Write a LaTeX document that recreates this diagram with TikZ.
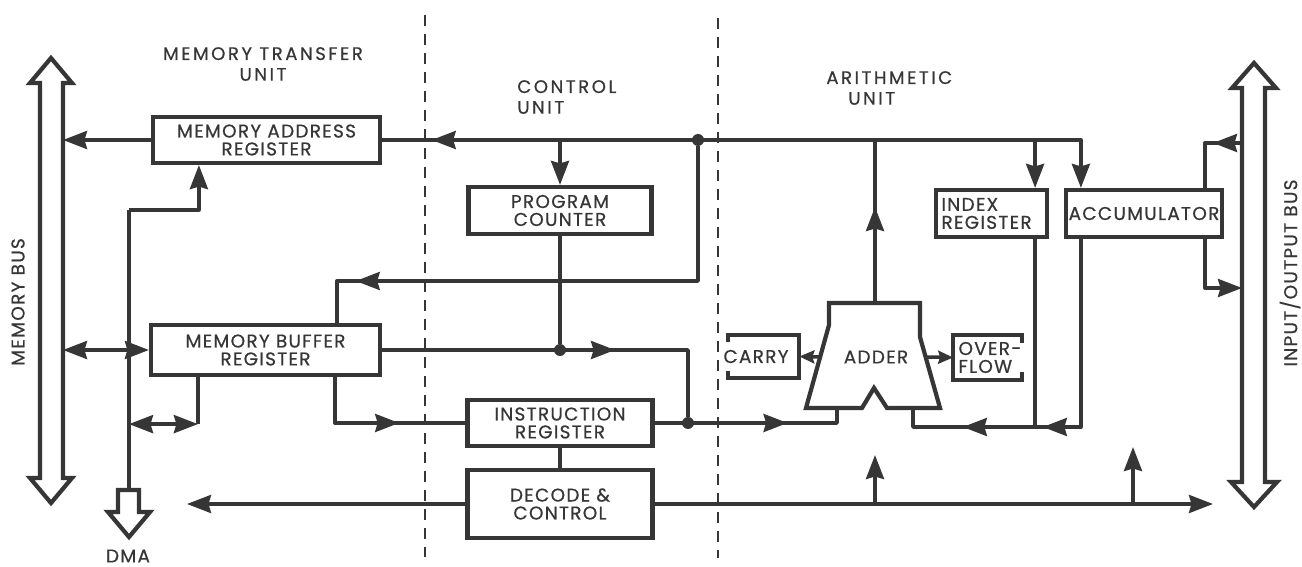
\documentclass[tikz,border=0pt]{standalone}
\usepackage{fontspec}
\setmainfont{Poppins}[LetterSpace=7, FakeBold=0.6]
\newfontfamily\widefont{Poppins}[LetterSpace=14, FakeBold=0.6]
\usetikzlibrary{arrows.meta,positioning,calc,decorations.markings}
\definecolor{ink}{HTML}{363636}
\newcommand{\regfont}{\fontsize{10.5}{10.2}\selectfont}
\newcommand{\labfont}{\widefont\fontsize{10.3}{11.8}\selectfont}
\tikzset{
  reg/.style={draw=ink, line width=2.4pt, align=center, font=\regfont, inner sep=1pt},
  wire/.style={line width=2pt, draw=ink, line join=round},
  sig/.style={wire, -{Stealth[length=4.8mm,width=3.6mm,inset=0.5mm]}},
  dbl/.style={wire, {Stealth[length=4.8mm,width=3.6mm,inset=0.5mm]}-{Stealth[length=4.8mm,width=3.6mm,inset=0.5mm]}},
  small/.style={wire, -{Stealth[length=3mm,width=2.6mm,inset=0.4mm]}},
  midtip/.style={postaction={decorate, decoration={markings,
      mark=at position #1 with {\arrow{Stealth[length=4.8mm,width=3.6mm,inset=0.5mm]}}}}},
  bus/.style={draw=ink, line width=2.4pt},
  dot/.style={circle, fill=ink, inner sep=0pt, minimum size=2.4mm},
  unitlab/.style={font=\labfont, inner sep=0pt},
  divider/.style={draw=ink, line width=1.1pt, dash pattern=on 0.22cm off 0.16cm},
}

\begin{document}
\begin{tikzpicture}[x=0.02cm, y=-0.02cm, color=ink]
  \useasboundingbox (0,0) rectangle (1302,567);
  % unit borders
  \draw[divider] (425,15) -- (425,557);
  \draw[divider] (718,18) -- (718,558);
  \node[unitlab, align=center] (mtu) at (263,64) {MEMORY TRANSFER\\UNIT};
  \node[unitlab, align=left, anchor=west] (cu) at (517,97) {CONTROL\\UNIT};
  \node[unitlab, align=left, anchor=west] (au) at (826,88) {ARITHMETIC\\\hspace*{0.44cm}UNIT};
  % buses
  \draw[bus] (51,58) -- (72,83) -- (63,83) -- (63,478) -- (72,478) -- (51,503) -- (30,478) -- (40,478)
    -- (40,83) -- (30,83) -- cycle;
  \draw[bus] (1254,63) -- (1276,88) -- (1265,88) -- (1265,482) -- (1277,482) -- (1254,507) -- (1231,482)
    -- (1242,482) -- (1242,88) -- (1232,88) -- cycle;
  \draw[bus] (118,490) -- (139,490) -- (139,512) -- (150,512) -- (129,537) -- (108,512) -- (118,512) -- cycle;
  \coordinate (mbus) at (63,300);
  \coordinate (ioIn) at (1242,143);
  \coordinate (ioOut) at (1242,288);
  \coordinate (dma) at (129,490);
  \coordinate (dmaTop) at (129,210);
  \node[font=\regfont, rotate=90] (mbl) at (18,302) {MEMORY BUS};
  \node[font=\regfont, rotate=90] (iol) at (1290,273) {INPUT/OUTPUT BUS};
  \node[font=\regfont] (dmal) at (128,556) {DMA};
  % registers
  \node[reg, minimum width=4.54cm, minimum height=0.92cm] (mar) at (266.5,140) {MEMORY ADDRESS\\REGISTER};
  \node[reg, minimum width=4.58cm, minimum height=1.0cm] (mbr) at (265.5,350) {MEMORY BUFFER\\REGISTER};
  \node[reg, minimum width=3.66cm, minimum height=0.94cm] (pc) at (560,210.5) {PROGRAM\\COUNTER};
  \node[reg, minimum width=3.7cm, minimum height=0.92cm] (ir) at (560,423) {INSTRUCTION\\REGISTER};
  \node[reg, minimum width=3.7cm, minimum height=1.36cm] (dec) at (560,504) {DECODE \&\\CONTROL};
  \node[reg, minimum width=2.22cm, minimum height=0.94cm, align=left, text width=2.0cm] (idx) at (991.5,213.5) {INDEX\\REGISTER};
  \node[reg, minimum width=3.12cm, minimum height=0.94cm] (acc) at (1144,213.5) {ACCUMULATOR};
  % adder and flags
  \draw[reg] (829,303) -- (920,303) -- (920,337) -- (940,408) -- (887,408) -- (874,388) -- (862,408)
    -- (806,408) -- (829,325) -- cycle;
  \node[font=\regfont] (adder) at (876,357) {ADDER};
  \coordinate (adderOut) at (875,303);
  \coordinate (adderIn1) at (837,408);
  \coordinate (adderIn2) at (913,408);
  \coordinate (adderC) at (819,357);
  \coordinate (adderV) at (925,357);
  \node[font=\regfont, inner sep=0pt, minimum width=1.42cm, minimum height=0.86cm] (carry) at (763.5,356.5) {\hspace*{-0.3cm}CARRY};
  \node[font=\regfont, align=left, inner sep=0pt, minimum width=1.34cm, minimum height=0.9cm] (ovf) at (987.5,357.5) {\hspace*{0.1cm}OVER-\\\hspace*{0.1cm}FLOW};
  \draw[reg] ([yshift=-0.14cm]carry.north west) -- (carry.north west) -- (carry.north east) -- (carry.south east)
    -- (carry.south west) -- ([yshift=0.14cm]carry.south west);
  \draw[reg] ([yshift=-0.16cm]ovf.north east) -- (ovf.north east) -- (ovf.north west) -- (ovf.south west)
    -- (ovf.south east) -- ([yshift=0.16cm]ovf.south east);
  \draw[small] (adderC) -- (carry.east);
  \draw[small] (adderV) -- (ovf.west);
  % junctions
  \node[dot] (j1) at (698,140) {};
  \node[dot] (j2) at (pc.south |- mbr.east) {};
  \node[dot] (j3) at (688,423) {};
  \coordinate (retL) at (913,427);
  \coordinate (upA) at (875,455);
  \coordinate (upB) at (1133,447);
  \coordinate (ctlL) at (187,504);
  \coordinate (ctlR) at (1213,504);
  % address side
  \draw[sig] (mar.west) -- (mar.west -| mbus);
  \draw[sig] (mar.east) -| ([xshift=0.34cm]acc.north west);
  \draw[wire, midtip=5.2cm] (j1) -- (mar.east);
  \draw[sig] (pc.north |- mar.east) -- (pc.north);
  \draw[sig] ([xshift=-0.28cm]idx.north east |- mar.east) -- ([xshift=-0.28cm]idx.north east);
  \draw[wire, midtip=1.92cm] (adderOut) -- (adderOut |- mar.east);
  \draw[wire, midtip=9.54cm] (j1) -- ++(0,141) -| ([xshift=-0.9cm]mbr.north east);
  \draw[wire] (dma) -- (dmaTop);
  \draw[sig] (dmaTop) -| ([xshift=0.96cm]mar.south west);
  % buffer side
  \draw[dbl] (mbr.west -| mbus) -- (mbr.west);
  \draw[wire] ([xshift=0.98cm]mbr.south west) -- ++(0,47) coordinate (mbrL);
  \draw[dbl] (mbrL -| dma) -- (mbrL);
  \draw[wire, midtip=2.2cm] ([xshift=-0.94cm]mbr.south east) |- (ir.west);
  \draw[wire, midtip=4.66cm] (mbr.east) -| (j3);
  \draw[wire] (pc.south) -- (j2);
  \draw[wire, midtip=2.66cm] (ir.east) -| (adderIn1);
  \draw[wire] (ir.south) -- (dec.north);
  % accumulator and index
  \draw[wire, midtip=4.52cm, midtip=6.12cm] ([xshift=0.34cm]acc.south west) |- (retL) -- (adderIn2);
  \draw[wire] ([xshift=-0.28cm]idx.south east) -- ([xshift=-0.28cm]idx.south east |- retL);
  \draw[wire, midtip=0.58cm] (ioIn) -| ([xshift=-0.38cm]acc.north east);
  \draw[sig] ([xshift=-0.38cm]acc.south east) |- (ioOut);
  % control lines
  \draw[sig] (dec.west) -- (ctlL);
  \draw[sig] (dec.east) -- (ctlR);
  \draw[sig] (upA |- dec.east) -- (upA);
  \draw[sig] (upB |- dec.east) -- (upB);
\end{tikzpicture}
\end{document}
